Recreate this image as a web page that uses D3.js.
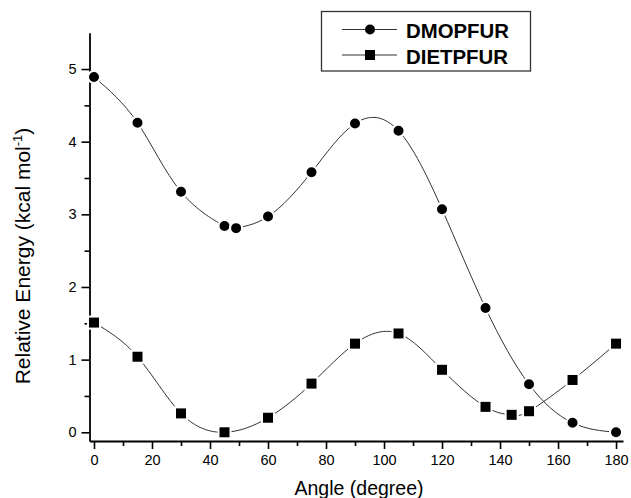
<!DOCTYPE html>
<html>
<head>
<meta charset="utf-8">
<script src="https://cdn.jsdelivr.net/npm/d3@7"></script>
<style>
  html, body { margin: 0; padding: 0; background: #fff; }
  svg { display: block; }
  text { font-family: "Liberation Sans", Arial, sans-serif; fill: #000; }
</style>
</head>
<body>
<svg id="chart" width="631" height="498"></svg>
<script>
// ---- data ----
const dmopAngles = [0, 15, 30, 45, 49, 60, 75, 90, 105, 120, 135, 150, 165, 180];
const dmopEnergy = [4.89, 4.26, 3.31, 2.84, 2.81, 2.97, 3.58, 4.25, 4.15, 3.07, 1.71, 0.66, 0.13, 0.0];
const dietAngles = [0, 15, 30, 45, 60, 75, 90, 105, 120, 135, 144, 150, 165, 180];
const dietEnergy = [1.51, 1.04, 0.26, 0.0, 0.20, 0.67, 1.22, 1.36, 0.86, 0.35, 0.24, 0.29, 0.72, 1.22];
const seriesNames = ["DMOPFUR", "DIETPFUR"];
const xTickValues = [0, 20, 40, 60, 80, 100, 120, 140, 160, 180];
const yTickValues = [0, 1, 2, 3, 4, 5];
const xTitle = "Angle (degree)";

const svg = d3.select("#chart");

const x = d3.scaleLinear().domain([-1.55, 182.4]).range([89.5, 623]);
const y = d3.scaleLinear().domain([-0.12, 5.5]).range([441, 32.7]);

// ---- axes ----
const xMinor = d3.range(0, 181, 10).filter(v => v % 20 !== 0);
const yMinor = d3.range(0.5, 5.01, 1);

const xAxisG = svg.append("g").attr("transform", `translate(0,${y.range()[0]})`);
xAxisG.call(d3.axisBottom(x).tickValues(xTickValues).tickFormat(d3.format("d"))
  .tickSize(8).tickPadding(6).tickSizeOuter(0));
const xMinorG = svg.append("g").attr("transform", `translate(0,${y.range()[0]})`);
xMinorG.call(d3.axisBottom(x).tickValues(xMinor).tickSize(5).tickFormat("").tickSizeOuter(0));
xMinorG.select(".domain").remove();

const yAxisG = svg.append("g").attr("transform", `translate(${x.range()[0]},0)`);
yAxisG.call(d3.axisLeft(y).tickValues(yTickValues).tickFormat(d3.format("d"))
  .tickSize(8).tickPadding(5).tickSizeOuter(0));
const yMinorG = svg.append("g").attr("transform", `translate(${x.range()[0]},0)`);
yMinorG.call(d3.axisLeft(y).tickValues(yMinor).tickSize(5).tickFormat("").tickSizeOuter(0));
yMinorG.select(".domain").remove();

svg.selectAll(".domain").attr("stroke", "#000").attr("stroke-width", 1.8);
svg.selectAll(".tick line").attr("stroke", "#000").attr("stroke-width", 1.6);
svg.selectAll(".tick text")
  .attr("font-family", "'Liberation Sans', Arial, sans-serif")
  .attr("font-size", 14.5)
  .attr("fill", "#000");

// ---- axis titles ----
svg.append("text")
  .attr("x", 359).attr("y", 495)
  .attr("text-anchor", "middle")
  .attr("font-size", 19.5)
  .text(xTitle);

const yt = svg.append("text")
  .attr("transform", "translate(30,256) rotate(-90)")
  .attr("text-anchor", "middle")
  .attr("font-size", 21);
yt.append("tspan").text("Relative Energy (kcal mol");
yt.append("tspan").attr("dy", -8).attr("font-size", 13).text("-1");
yt.append("tspan").attr("dy", 8).text(")");

// ---- lines ----
const dmop = dmopAngles.map((a, i) => ({ a, e: dmopEnergy[i] }));
const diet = dietAngles.map((a, i) => ({ a, e: dietEnergy[i] }));

const line = d3.line().x(d => x(d.a)).y(d => y(d.e)).curve(d3.curveNatural);

svg.append("path").datum(dmop).attr("d", line)
  .attr("fill", "none").attr("stroke", "#333").attr("stroke-width", 1);
svg.append("path").datum(diet).attr("d", line)
  .attr("fill", "none").attr("stroke", "#333").attr("stroke-width", 1);

// ---- markers ----
svg.append("g").selectAll("circle").data(dmop).join("circle")
  .attr("cx", d => x(d.a)).attr("cy", d => y(d.e)).attr("r", 6)
  .attr("fill", "#000").attr("stroke", "#fff").attr("stroke-width", 2);

svg.append("g").selectAll("rect").data(diet).join("rect")
  .attr("x", d => x(d.a) - 6).attr("y", d => y(d.e) - 6)
  .attr("width", 12).attr("height", 12)
  .attr("fill", "#000").attr("stroke", "#fff").attr("stroke-width", 2);

// ---- legend ----
const lg = svg.append("g");
lg.append("rect")
  .attr("x", 321.5).attr("y", 11.5).attr("width", 209).attr("height", 59.5)
  .attr("fill", "#fff").attr("stroke", "#333").attr("stroke-width", 1.3);
const legRows = [29.5, 55];
const legWidths = [103, 102];
seriesNames.forEach((name, i) => {
  const cy = legRows[i];
  lg.append("line").attr("x1", 342).attr("x2", 397).attr("y1", cy).attr("y2", cy)
    .attr("stroke", "#333").attr("stroke-width", 1);
  if (i === 0) {
    lg.append("circle").attr("cx", 370).attr("cy", cy).attr("r", 5).attr("fill", "#000");
  } else {
    lg.append("rect").attr("x", 365).attr("y", cy - 5).attr("width", 10).attr("height", 10).attr("fill", "#000");
  }
  lg.append("text").attr("x", 406).attr("y", cy + 8.5)
    .attr("font-size", 19.5).attr("font-weight", "bold")
    .attr("textLength", legWidths[i]).attr("lengthAdjust", "spacingAndGlyphs")
    .text(name);
});
</script>
</body>
</html>
